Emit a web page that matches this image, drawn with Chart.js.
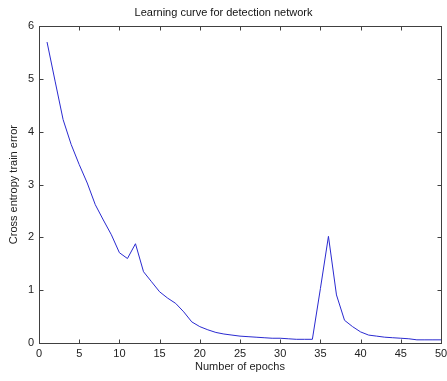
<!DOCTYPE html>
<html lang="en">
<head>
    <meta charset="UTF-8">
    <title>Learning curve for detection network</title>
    <script src="https://cdn.jsdelivr.net/npm/chart.js"></script>
    <style>
        html, body {
            margin: 0;
            padding: 0;
            background: #fff;
        }
        #chart {
            display: block;
        }
    </style>
</head>
<body>
    <canvas id="chart" width="447" height="381"></canvas>

    <script>
        // values
        let epochs = [];
        for (let i = 1; i <= 50; i++) epochs.push(i);
        let trainError = [
            5.70, 4.96, 4.23, 3.76, 3.38, 3.03, 2.62, 2.33, 2.05, 1.71,
            1.60, 1.88, 1.35, 1.16, 0.97, 0.85, 0.75, 0.59, 0.40, 0.31,
            0.25, 0.20, 0.17, 0.15, 0.13, 0.12, 0.11, 0.10, 0.09, 0.09,
            0.08, 0.07, 0.07, 0.07, 1.03, 2.02, 0.91, 0.43, 0.31, 0.21,
            0.15, 0.13, 0.11, 0.10, 0.09, 0.08, 0.06, 0.06, 0.06, 0.06
        ];
        let xTicks = [0, 5, 10, 15, 20, 25, 30, 35, 40, 45, 50];
        let yTicks = [0, 1, 2, 3, 4, 5, 6];

        let axisColor = "#404040";
        let textFont = { family: "'Liberation Sans', Arial, sans-serif", size: 11, weight: "normal" };

        // matlab style box with ticks pointing inward on all four sides
        let boxPlugin = {
            id: "box",
            afterDatasetsDraw(chart) {
                let ctx = chart.ctx;
                let a = chart.chartArea;
                let x = chart.scales.x;
                let y = chart.scales.y;
                let L = Math.round(a.left) + 0.5, R = Math.round(a.right) + 0.5;
                let T = Math.round(a.top) + 0.5, B = Math.round(a.bottom) + 0.5;
                ctx.save();
                ctx.strokeStyle = axisColor;
                ctx.lineWidth = 1;
                ctx.strokeRect(L, T, R - L, B - T);
                ctx.beginPath();
                xTicks.forEach(v => {
                    let px = Math.round(x.getPixelForValue(v)) + 0.5;
                    ctx.moveTo(px, B); ctx.lineTo(px, B - 4);
                    ctx.moveTo(px, T); ctx.lineTo(px, T + 4);
                });
                yTicks.forEach(v => {
                    let py = Math.round(y.getPixelForValue(v)) + 0.5;
                    ctx.moveTo(L, py); ctx.lineTo(L + 4, py);
                    ctx.moveTo(R, py); ctx.lineTo(R - 4, py);
                });
                ctx.stroke();
                ctx.restore();
            }
        };

        let ctx = document.getElementById("chart").getContext("2d");
        new Chart(ctx, {
            type: "line",
            data: {
                labels: epochs,
                datasets: [{
                    data: epochs.map((e, i) => ({ x: e, y: trainError[i] })),
                    borderColor: "#2a2ad0",
                    borderWidth: 1,
                    pointRadius: 0,
                    tension: 0,
                    fill: false
                }]
            },
            options: {
                responsive: false,
                animation: false,
                layout: { padding: { left: 0, right: 0, top: 0, bottom: 0 } },
                plugins: {
                    legend: { display: false },
                    tooltip: { enabled: false },
                    title: {
                        display: true,
                        text: "Learning curve for detection network",
                        color: "#111",
                        font: textFont,
                        padding: { top: 6, bottom: 7 }
                    }
                },
                scales: {
                    x: {
                        type: "linear",
                        min: 0,
                        max: 50,
                        afterBuildTicks: s => { s.ticks = xTicks.map(v => ({ value: v })); },
                        afterFit: s => {
                            s.height = 38;
                            s.paddingLeft = 0;
                            s.paddingRight = 6;
                        },
                        grid: { display: false, drawTicks: false },
                        border: { display: false },
                        ticks: { color: "#222", font: textFont, padding: 4, maxRotation: 0 },
                        title: {
                            display: true,
                            text: "Number of epochs",
                            color: "#222",
                            font: textFont,
                            padding: { top: 0, bottom: 7 }
                        }
                    },
                    y: {
                        min: 0,
                        max: 6,
                        afterBuildTicks: s => { s.ticks = yTicks.map(v => ({ value: v })); },
                        afterFit: s => { s.width = 39; },
                        grid: { display: false, drawTicks: false },
                        border: { display: false },
                        ticks: { color: "#222", font: textFont, padding: 5 },
                        title: {
                            display: true,
                            text: "Cross entropy train error",
                            color: "#222",
                            font: textFont,
                            padding: { top: 7.5, bottom: 0 }
                        }
                    }
                }
            },
            plugins: [boxPlugin]
        });
    </script>
</body>
</html>
